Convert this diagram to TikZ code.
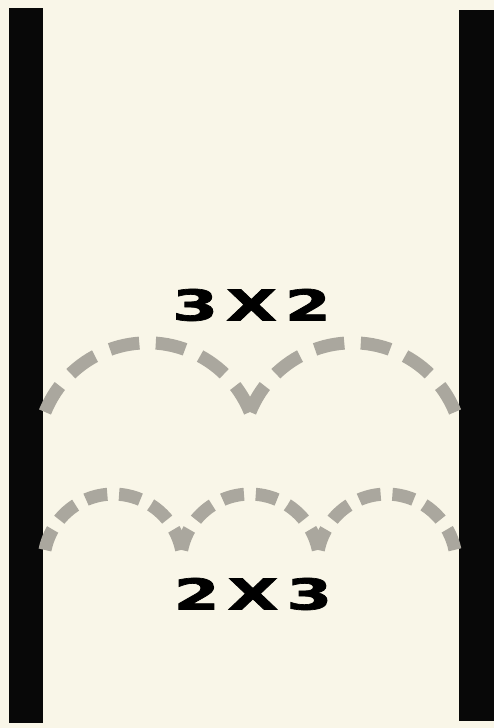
\documentclass[tikz,border=0pt]{standalone}
\usepackage{fontspec}
\newfontfamily\labelfont[WordSpace=0.35,BoldFeatures={FakeBold=1.6}]{DejaVu Sans}
\definecolor{paper}{RGB}{249,246,232}
\definecolor{dashgray}{RGB}{170,167,158}
\definecolor{barblack}{RGB}{8,8,8}
\begin{document}
\begin{tikzpicture}[x=1pt,y=1pt,
  bar/.style={fill=barblack,draw=none},
  toparc/.style={draw=dashgray,line width=13pt,dash pattern=on 30pt off 16.5pt},
  botarc/.style={draw=dashgray,line width=13pt,dash pattern=on 22pt off 11.8pt},
  lbl/.style={font=\labelfont\bfseries\fontsize{42.5}{44}\selectfont, inner sep=0pt, text=black}]
\useasboundingbox (0,0) rectangle (494,728);
\fill[paper] (0,0) rectangle (494,728);
% black side bars
\fill[bar] (9,5) rectangle (43,720);
\fill[bar] (459,7) rectangle (494,718);
% upper row: two arcs (3 x 2)
\coordinate (u0) at (45,316);
\coordinate (u1) at (250,316);
\draw[toparc] (u0) arc[start angle=158, end angle=22, radius=110.6];
\draw[toparc] (u1) arc[start angle=158, end angle=22, radius=110.6];
% lower row: three arcs (2 x 3)
\coordinate (l0) at (45,178);
\coordinate (l1) at (181.67,178);
\coordinate (l2) at (318.33,178);
\draw[botarc] (l0) arc[start angle=168.6, end angle=11.4, radius=69.7];
\draw[botarc] (l1) arc[start angle=168.6, end angle=11.4, radius=69.7];
\draw[botarc] (l2) arc[start angle=168.6, end angle=11.4, radius=69.7];
% labels
\node[lbl] (t32) at (251.5,423) {\scalebox{1.55}[1]{3 X 2}};
\node[lbl] (t23) at (253,134) {\scalebox{1.55}[1]{2 X 3}};
\end{tikzpicture}
\end{document}
